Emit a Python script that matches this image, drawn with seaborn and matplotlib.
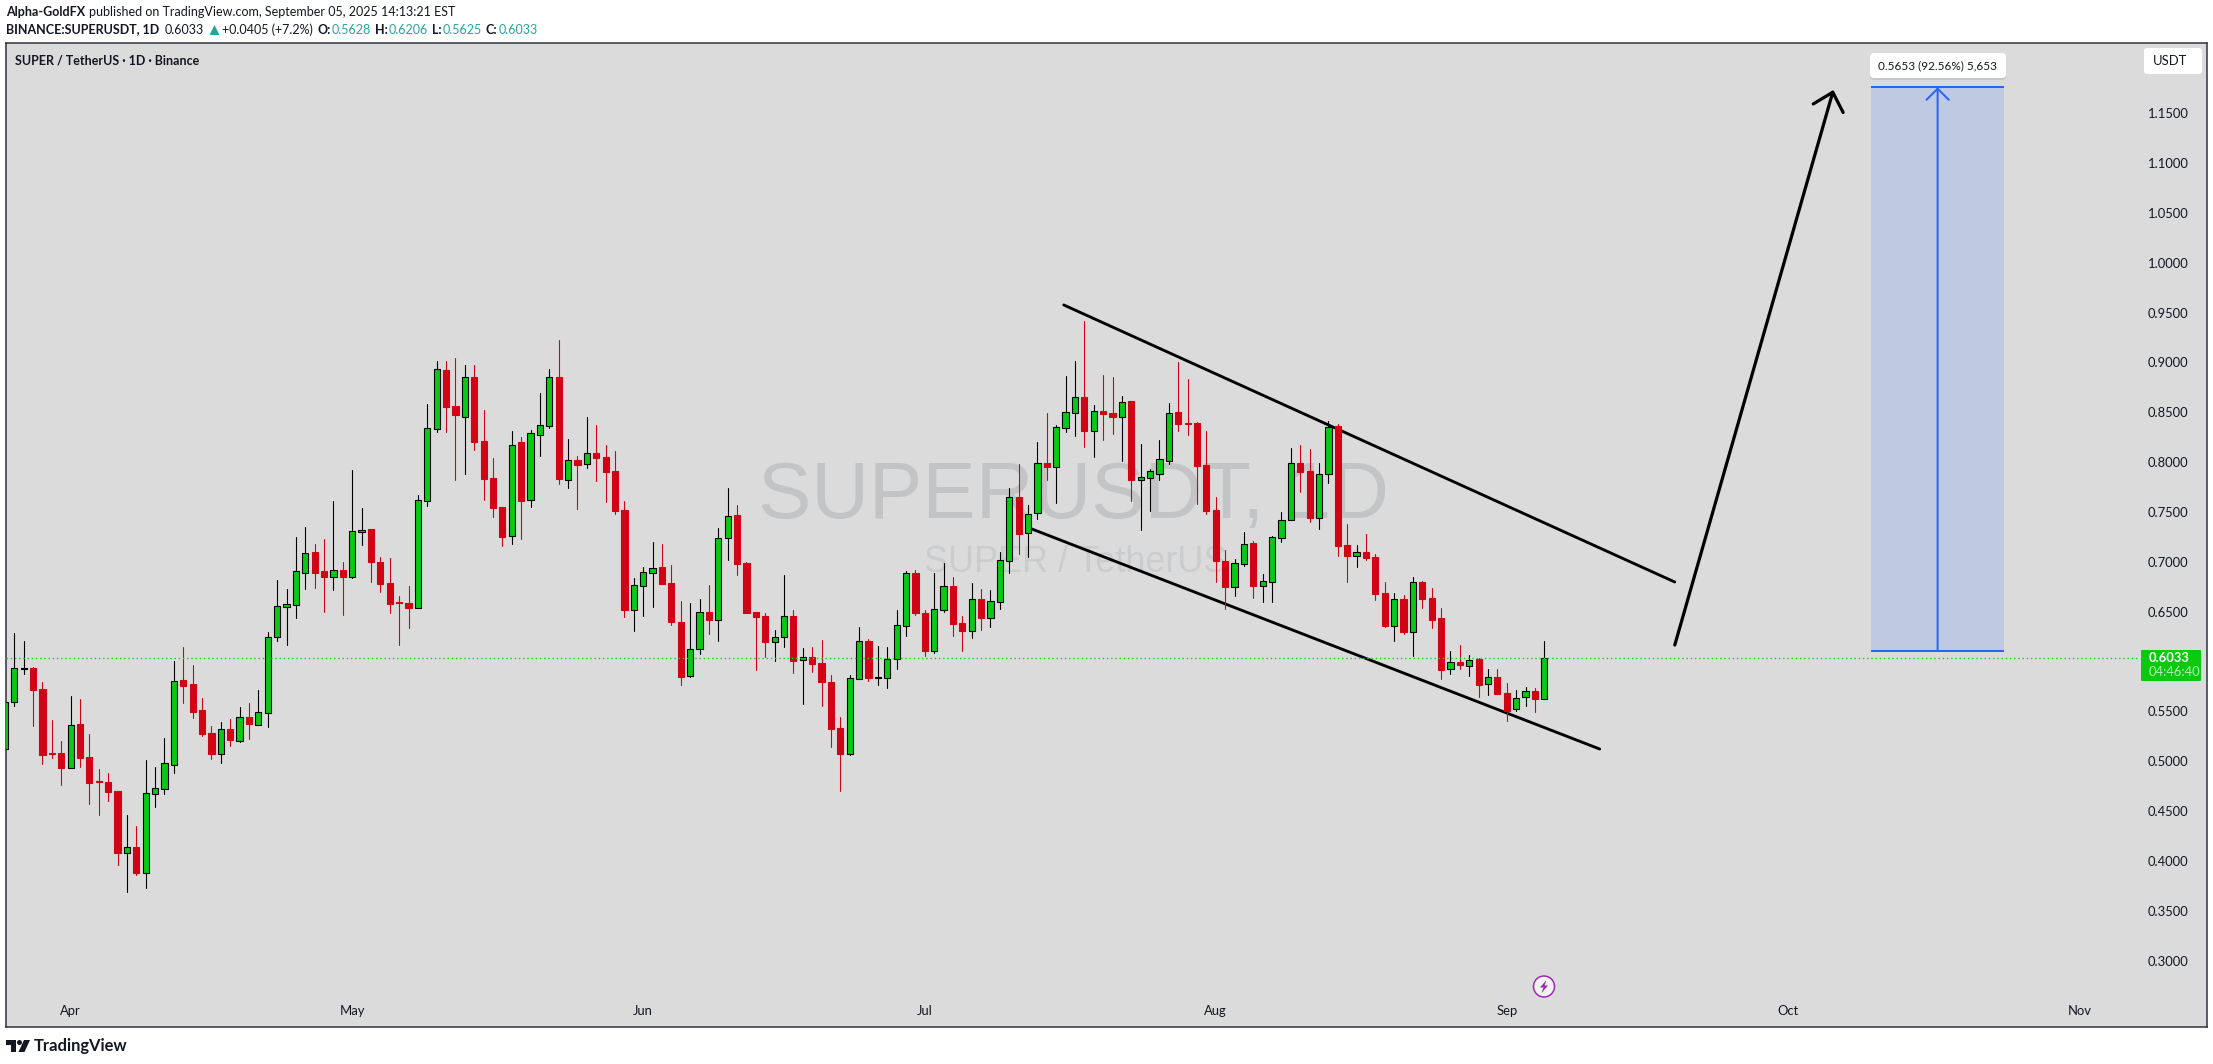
import datetime as dt
import matplotlib
matplotlib.use("Agg")
import matplotlib.pyplot as plt
from matplotlib.patches import Rectangle, FancyBboxPatch, Circle, Polygon
from matplotlib.transforms import Affine2D
import numpy as np
import pandas as pd
import seaborn as sns

# ---------- data (daily candles, first day 2025-03-25) ----------
first_day = dt.date(2025, 3, 25)
opens = [
 .5120,.5598,.5930,.5933,.5725,.5080,.5084,.4936,.5374,.5043,
 .4799,.4793,.4702,.4084,.4141,.3883,.4676,.4726,.4967,.5816,
 .5776,.5515,.5284,.5077,.5324,.5207,.5445,.5368,.5488,.6244,
 .6552,.6572,.6893,.7100,.6909,.6853,.6919,.6853,.7304,.7331,
 .7000,.6788,.6594,.6588,.6541,.7614,.8336,.8925,.8564,.8457,
 .8854,.8212,.7841,.7551,.7263,.8202,.7624,.8276,.8366,.8854,
 .7825,.8022,.7985,.8092,.8052,.7912,.7520,.6521,.6762,.6892,
 .6949,.6788,.6398,.5860,.6130,.6498,.6421,.7244,.7471,.6990,
 .6498,.6458,.6201,.6251,.6458,.6013,.6047,.5987,.5796,.5335,
 .5077,.5830,.6207,.5840,.5840,.6030,.6361,.6889,.6488,.6110,
 .6522,.6759,.6388,.6311,.6629,.6441,.6602,.7013,.7651,.7287,
 .7487,.7992,.7955,.8347,.8497,.8654,.8317,.8514,.8494,.8457,
 .8614,.7825,.7845,.7885,.8016,.8504,.8390,.8393,.7972,.7521,
 .7009,.6752,.6983,.7190,.6762,.6802,.7243,.7424,.7992,.7912,
 .7444,.7879,.8363,.7170,.7063,.7100,.7046,.6688,.6354,.6628,
 .6294,.6799,.6638,.6438,.5923,.5996,.5960,.6026,.5772,.5846,
 .5685,.5522,.5642,.5706,.5628]
closes = [
 .5598,.5933,.5933,.5715,.5063,.5077,.4933,.5361,.5033,.4783,
 .4796,.4692,.4081,.4137,.3880,.4679,.4729,.4980,.5802,.5756,
 .5495,.5274,.5074,.5321,.5214,.5441,.5374,.5491,.6244,.6555,
 .6575,.6906,.7087,.6889,.6849,.6916,.6849,.7311,.7324,.7000,
 .6779,.6578,.6591,.6538,.7617,.8340,.8931,.8553,.8473,.8851,
 .8202,.7831,.7541,.7250,.8169,.7611,.8289,.8370,.8851,.7831,
 .8019,.7972,.8089,.8042,.7902,.7510,.6518,.6765,.6895,.6935,
 .6778,.6397,.5846,.6124,.6495,.6418,.7237,.7458,.6980,.6488,
 .6448,.6197,.6244,.6455,.6007,.6044,.5977,.5796,.5325,.5074,
 .5833,.6204,.5836,.5843,.6023,.6364,.6886,.6488,.6107,.6525,
 .6756,.6378,.6308,.6625,.6438,.6605,.7016,.7648,.7280,.7477,
 .7989,.7952,.8350,.8500,.8651,.8313,.8510,.8484,.8454,.8601,
 .7822,.7849,.7909,.8029,.8490,.8383,.8387,.7962,.7511,.7009,
 .6749,.6986,.7177,.6759,.6806,.7247,.7417,.7989,.7902,.7441,
 .7879,.8350,.7160,.7060,.7096,.7040,.6678,.6357,.6625,.6297,
 .6795,.6628,.6418,.5916,.5993,.5966,.6013,.5766,.5843,.5675,
 .5505,.5632,.5702,.5625,.6033]
highs = [
 .5649,.6287,.6207,.5949,.5796,.5415,.5204,.5655,.5625,.5274,
 .4923,.4883,.4705,.4462,.4351,.5013,.4943,.5234,.6006,.6147,
 .5966,.5635,.5354,.5394,.5425,.5545,.5585,.5715,.6297,.6819,
 .6729,.7250,.7351,.7180,.7230,.7611,.7000,.7922,.7541,.7332,
 .7050,.7039,.6658,.6758,.7668,.8584,.9015,.9015,.9045,.8975,
 .8975,.8523,.8042,.7551,.8313,.8253,.8323,.8694,.8931,.9225,
 .8233,.8062,.8453,.8373,.8172,.8112,.7611,.6839,.6949,.7200,
 .7179,.6969,.6608,.6588,.6629,.6769,.7341,.7742,.7571,.7000,
 .6500,.6488,.6318,.6869,.6518,.6137,.6147,.6217,.5866,.5445,
 .5866,.6348,.6227,.6157,.6147,.6518,.6909,.6919,.6518,.6889,
 .6990,.6849,.6458,.6789,.6729,.6719,.7100,.7742,.7982,.7571,
 .8203,.8494,.8373,.8865,.9015,.9416,.8574,.8875,.8855,.8664,
 .8616,.8183,.7932,.8223,.8594,.9005,.8835,.8400,.8313,.7651,
 .7120,.7029,.7300,.7210,.6879,.7260,.7501,.8143,.8173,.8133,
 .7992,.8413,.8383,.7380,.7170,.7280,.7080,.6799,.6688,.6668,
 .6849,.6809,.6739,.6538,.6107,.6167,.6067,.6033,.5926,.5926,
 .5786,.5716,.5746,.5736,.6206]
lows = [
 .5080,.5555,.5876,.5354,.4973,.5033,.4763,.4930,.4943,.4572,
 .4462,.4602,.3960,.3690,.3860,.3730,.4542,.4672,.4883,.5585,
 .5435,.5254,.5023,.4983,.5154,.5194,.5224,.5365,.5344,.6207,
 .6167,.6438,.6729,.6739,.6498,.6719,.6468,.6839,.7170,.6799,
 .6699,.6487,.6167,.6337,.6538,.7561,.8303,.8303,.7821,.7882,
 .8122,.7621,.7450,.7159,.7179,.7230,.7551,.8062,.8343,.7781,
 .7741,.7531,.7942,.7811,.7601,.7480,.6447,.6307,.6457,.6548,
 .6775,.6367,.5766,.5846,.6077,.6278,.6207,.7020,.6869,.6485,
 .5916,.6047,.6007,.6147,.5886,.5575,.5896,.5555,.5144,.4703,
 .5064,.5825,.5806,.5766,.5736,.5927,.6257,.6468,.6057,.6087,
 .6498,.6257,.6107,.6237,.6318,.6348,.6528,.6889,.7080,.7050,
 .7431,.7822,.7591,.8303,.8263,.8153,.8052,.8223,.8283,.8012,
 .7611,.7320,.7511,.7822,.7982,.8313,.8273,.7581,.7481,.6799,
 .6528,.6658,.6959,.6638,.6598,.6598,.7200,.7420,.7701,.7401,
 .7330,.7792,.7060,.6799,.6949,.7019,.6618,.6347,.6207,.6277,
 .6057,.6538,.6337,.5826,.5876,.5926,.5856,.5645,.5665,.5672,
 .5405,.5505,.5555,.5495,.5625]

price_ticks = [.30,.35,.40,.45,.50,.55,.65,.70,.75,.80,.85,.90,.95,1.00,1.05,1.10,1.15]
month_labels = ["Apr","May","Jun","Jul","Aug","Sep","Oct","Nov"]
month_starts = [dt.date(2025,m,1) for m in range(4,12)]
last_price = 0.6033

# drawings as (day number, price)
upper_channel_days, upper_channel_prices = [112.8, 177.9], [0.9577, 0.6798]
lower_channel_days, lower_channel_prices = [109.4, 169.9], [0.7330, 0.5123]
arrow_days, arrow_prices = [177.9, 194.8], [0.6166, 1.1733]
measure_days = [198.8, 213.0]
measure_start, measure_change = 0.6107, 0.5653

# ---------- style ----------
BG = "#DBDBDB"; GREEN = "#0AC914"; RED = "#D10416"; BLUE = "#2962FF"
TXT = "#131722"; AXC = "#2A2E39"; TEAL = "#26A69A"
sns.set_theme(style="white", rc={"axes.facecolor": BG, "figure.facecolor": "white"})
FONT = ["Lato", "DejaVu Sans"]
plt.rcParams["font.family"] = FONT

W, H = 2213, 1064
fig = plt.figure(figsize=(W/100, H/100), dpi=100)
L, R, T, B = 6.0, 2207.0, 43.3, 1027.0
ax = fig.add_axes([L/W, 1-B/H, (R-L)/W, (B-T)/H])
px = Affine2D().scale(1, -1).translate(0, H)       # figure pixels, y down
PT = 0.72   # points per pixel at dpi 100

df = pd.DataFrame({"day": np.arange(len(opens)), "open": opens, "high": highs,
                   "low": lows, "close": closes})
df["up"] = df["close"] >= df["open"]
wicks = df.melt(id_vars=["day", "up"], value_vars=["high", "low"], value_name="price")
ax.set_xlim(0.117, 234.6)
ax.set_ylim(0.2335, 1.2201)

# watermark
ax.text(1073, 497, "SUPERUSDT, 1D", transform=px, ha="center", va="center",
        fontsize=80*PT, color="#C2C4C6", family="Liberation Sans", zorder=0.5)
ax.text(1076, 562, "SUPER / TetherUS", transform=px, ha="center", va="center",
        fontsize=36*PT, color="#CACCCE", family="Liberation Sans", zorder=0.5)

# channels
for xs, ys in [(upper_channel_days, upper_channel_prices), (lower_channel_days, lower_channel_prices)]:
    sns.lineplot(x=xs, y=ys, color="black", lw=2.2*PT*1.3, ax=ax, zorder=1.5, legend=False, estimator=None, sort=False)

# wicks
sns.lineplot(data=wicks[wicks.up], x="day", y="price", units="day", estimator=None,
             color="black", lw=1.1*PT, ax=ax, zorder=2, legend=False)
sns.lineplot(data=wicks[~wicks.up], x="day", y="price", units="day", estimator=None,
             color=RED, lw=1.1*PT, ax=ax, zorder=2, legend=False)
# bodies
up, dn = df[df.up], df[~df.up]
ax.bar(up.day, (up.close-up.open), bottom=up.open, width=0.66, color=GREEN,
       edgecolor="black", linewidth=1.1*PT, zorder=3)
ax.bar(dn.day, (dn.open-dn.close), bottom=dn.close, width=0.66, color=RED,
       edgecolor=RED, linewidth=1.1*PT, zorder=3)

# last price line
ax.plot([0.117, (2138-4.9)/9.387], [last_price, last_price], color="#0AD90A", lw=1.4*PT,
        ls=(0, (1, 2)), zorder=4)

# long arrow
ax.annotate("", xy=(arrow_days[1], arrow_prices[1]), xytext=(arrow_days[0], arrow_prices[0]),
            arrowprops=dict(arrowstyle="->,head_length=0.6,head_width=0.56", color="black",
                            lw=3.2*PT, mutation_scale=20, shrinkA=0, shrinkB=0), zorder=5)

# measure tool
top = measure_start + measure_change
ax.add_patch(Rectangle((measure_days[0], measure_start), measure_days[1]-measure_days[0],
                       measure_change, fc="#BFC9E2", ec="none", zorder=1.2))
ax.hlines([measure_start, top], *measure_days, color=BLUE, lw=2*PT, zorder=4)
mid = sum(measure_days)/2
ax.annotate("", xy=(mid, top), xytext=(mid, measure_start),
            arrowprops=dict(arrowstyle="->,head_length=0.4,head_width=0.4", color=BLUE,
                            lw=2*PT, mutation_scale=20, shrinkA=0, shrinkB=0), zorder=4)

# axes
ax.yaxis.tick_right()
ax.set_yticks(price_ticks, [f"{v:.4f}" for v in price_ticks])
ax.tick_params(axis="y", length=0, pad=-59.5*PT, labelsize=13*PT, labelcolor=TXT)
for t in ax.get_yticklabels():
    t.set_ha("left")
ax.set_xticks([(d-first_day).days for d in month_starts], month_labels)
ax.tick_params(axis="x", length=0, pad=-22*PT, labelsize=13*PT, labelcolor=TXT)
ax.set_xlabel(""); ax.set_ylabel("")
for s in ax.spines.values():
    s.set_visible(True); s.set_color(AXC); s.set_linewidth(1.5*PT)

# overlays in figure pixels
def box(x0, y0, x1, y1, fc, r=3, ec="none", z=10, alpha=1):
    fig.add_artist(FancyBboxPatch((x0+r, y0+r), x1-x0-2*r, y1-y0-2*r,
                                  boxstyle=f"round,pad={r},rounding_size={r}",
                                  fc=fc, ec=ec, lw=0, transform=px, zorder=z, alpha=alpha))
def txt(x, y, s, **k):
    k.setdefault("color", TXT); k.setdefault("va", "center"); k.setdefault("ha", "left")
    k.setdefault("zorder", 12); k.setdefault("fontsize", 13*PT)
    return fig.text(x, y, s, transform=px, **k)

# measure label
box(1870, 55, 2006, 80, "#B5B5B5", 4, z=9, alpha=.5)
box(1870, 53, 2006, 78, "white", 4)
txt(1938, 65.5, "0.5653 (92.56%) 5,653", ha="center", fontsize=11.8*PT)
# USDT tag
box(2144, 48, 2202, 74, "white", 3)
txt(2153, 61, "USDT")
# last price tag
box(2141, 650, 2201, 681, "#0AC90E", 1)
txt(2149, 658.5, "0.6033", color="white", weight="bold")
txt(2149, 672.5, "04:46:40", color="#B4F0B8")

# header
HS = 12.5*PT
t = txt(6, 12.5, "Alpha-GoldFX", weight="bold", fontsize=HS)
def after(artist, gap=3.5):
    fig.canvas.draw()
    return artist.get_window_extent().x1 + gap
xn = after(t)
txt(xn, 12.5, "published on TradingView.com, September 05, 2025 14:13:21 EST", fontsize=HS)
seq = [("BINANCE:SUPERUSDT, 1D", dict(weight="bold", color=TXT)), ("0.6033", dict(color=TXT))]
xn = 6
for s, k in seq:
    a = txt(xn, 29.5, s, fontsize=HS, **k); xn = after(a, 5)
fig.add_artist(Polygon([(xn+1, 35), (xn+11, 35), (xn+6, 25)], fc=TEAL, ec="none", transform=px, zorder=12))
xn += 14
for s, c, w in [("+0.0405 (+7.2%)", TXT, "normal"), ("O:", TXT, "bold"), ("0.5628", TEAL, "normal"),
                ("H:", TXT, "bold"), ("0.6206", TEAL, "normal"), ("L:", TXT, "bold"), ("0.5625", TEAL, "normal"),
                ("C:", TXT, "bold"), ("0.6033", TEAL, "normal")]:
    a = txt(xn, 29.5, s, color=c, weight=w, fontsize=HS)
    xn = after(a, 1 if w == "bold" else 4)
txt(15, 60.5, "SUPER / TetherUS · 1D · Binance", weight="bold", fontsize=12.5*PT)

# lightning marker
fig.add_artist(Circle((1544, 986.5), 10.5, fc="#F2F2F2", ec="#9C27B0", lw=1.5*PT, transform=px, zorder=10))
fig.add_artist(Polygon([(1546.5, 980), (1540, 987.5), (1543.5, 987.5), (1541.5, 993), (1548, 985.5), (1544.5, 985.5)],
                       fc="#9C27B0", ec="none", transform=px, zorder=11))

# TradingView logo
fig.add_artist(Polygon([(6, 1040), (16, 1040), (16, 1052), (11, 1052), (11, 1045), (6, 1045)], fc=TXT, ec="none", transform=px))
fig.add_artist(Circle((19.5, 1042.5), 2.5, fc=TXT, ec="none", transform=px))
fig.add_artist(Polygon([(24, 1040), (30, 1040), (24.5, 1052), (18.5, 1052)], fc=TXT, ec="none", transform=px))
txt(34, 1046, "TradingView", weight="bold", fontsize=16.5*PT, color=TXT)

fig.savefig("out.png", dpi=100)
